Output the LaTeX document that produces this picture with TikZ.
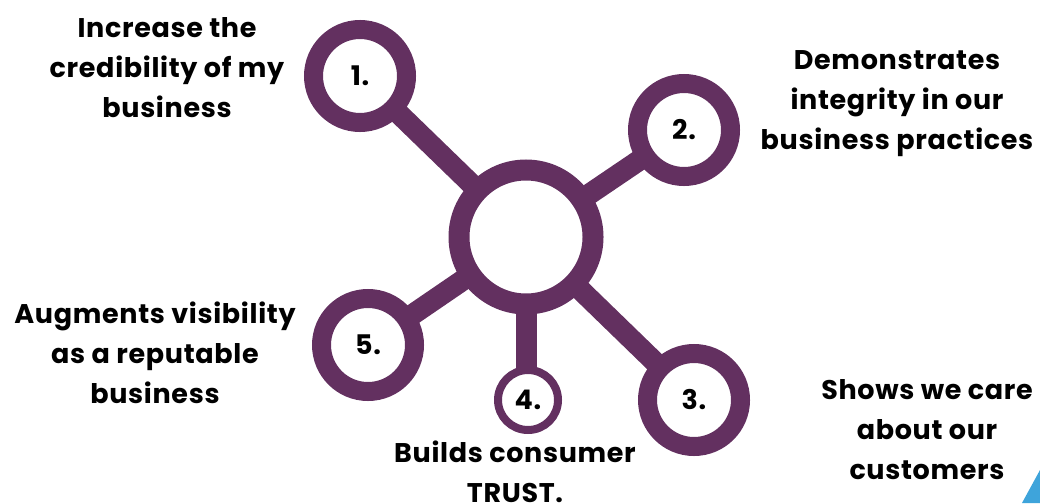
\documentclass[tikz,border=0pt]{standalone}
\usepackage{fontspec}
\setmainfont{Poppins}[BoldFont={* Bold}, LetterSpace=2.5]
\usepackage{xcolor}
\usetikzlibrary{backgrounds}
\definecolor{plum}{RGB}{99,48,96}
\definecolor{skyblue}{RGB}{62,164,219}

\begin{document}
\begin{tikzpicture}[x=1pt,y=-1pt,
    ring/.style={circle, draw=plum, fill=white, line width=19pt, minimum size=93pt, inner sep=0pt,
                 font=\fontsize{27}{27}\selectfont\bfseries},
    smallring/.style={ring, line width=8pt, minimum size=60pt},
    hubring/.style={ring, line width=21pt, minimum size=134pt},
    spoke/.style={draw=plum, line width=21pt},
    caption/.style={align=center, inner sep=0pt, font=\fontsize{27}{40}\selectfont\bfseries}]
        \useasboundingbox (0,0) rectangle (1040,503);
        % hub and numbered rings
        \node[hubring] (hub) at (526,237) {};
        \node[ring] (r1) at (360,76) {1.};
        \node[ring] (r2) at (684,130) {2.};
        \node[ring] (r3) at (694,400) {3.};
        \node[smallring] (r4) at (528,400) {4.};
        \node[ring] (r5) at (368,345) {5.};
        % spokes
        \begin{scope}[on background layer]
            \foreach \r in {r1,r2,r3,r5}
                \draw[spoke] (hub.center) -- (\r.center);
            \draw[spoke] (hub.center) -- (hub.center |- r4.center);
        \end{scope}
        % captions
        \node[caption] (t1) at (167,68) {Increase the\\credibility of my\\business};
        \node[caption] (t2) at (897,104) {Demonstrates\\integrity in our\\business practices};
        \node[caption] (t3) at (927,430) {Shows we care\\about our\\customers};
        \node[caption] (t4) at (515,472) {Builds consumer\\TRUST.};
        \node[caption] (t5) at (155,353) {Augments visibility\\as a reputable\\business};
        % corner
        \fill[skyblue] (1040,470) -- (1022,503) -- (1040,503) -- cycle;
\end{tikzpicture}
\end{document}
